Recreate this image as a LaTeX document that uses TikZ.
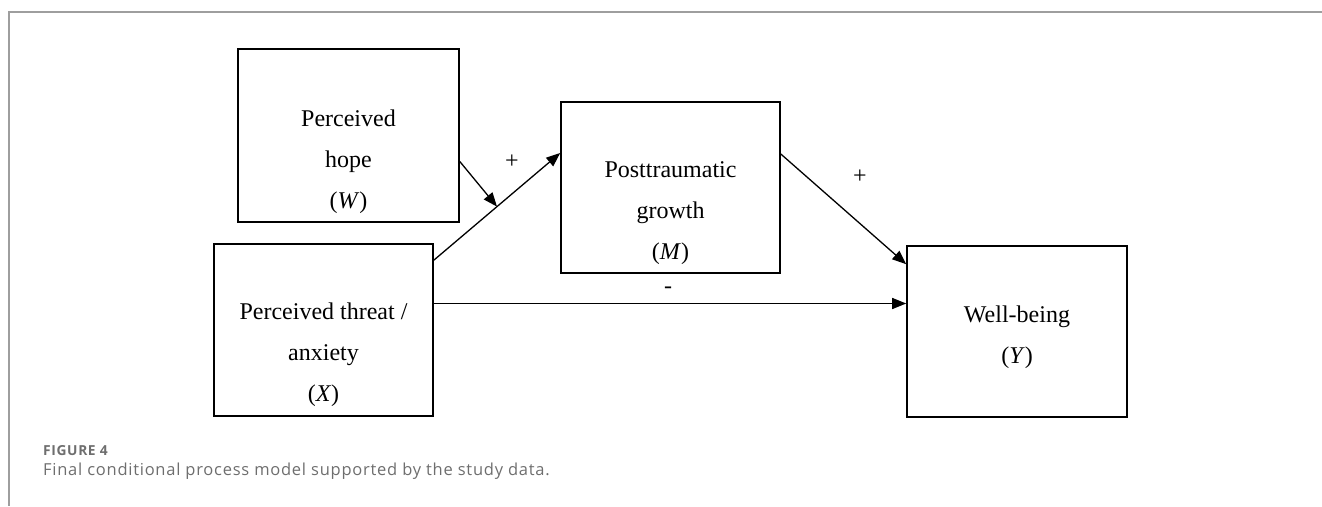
\documentclass[tikz,border=0pt]{standalone}
\usepackage{fontspec}
\setmainfont{Liberation Serif}
\newfontfamily\capfont[LetterSpace=4.5]{Open Sans}
\usetikzlibrary{arrows.meta}
\definecolor{framegray}{HTML}{9E9E9E}
\definecolor{capgray}{HTML}{6E6E6E}
\begin{document}
\begin{tikzpicture}[x=1pt,y=-1pt,
    box/.style={draw, line width=1.6pt, inner sep=0pt},
    boxtext/.style={align=center, font=\fontsize{24}{41}\selectfont},
    sign/.style={font=\fontsize{24}{28}\selectfont},
    arr/.style={-{Triangle[length=14pt,width=11pt]}, line width=1.3pt}]
    \useasboundingbox (0,0) rectangle (1322,506);
    % frame of the figure
    \draw[framegray, line width=1.5pt] (1322,12) -- (9,12) -- (9,506);

    % boxes
    \node[box, minimum width=221pt, minimum height=173pt] (hope) at (348.5,135.5) {};
    \node[box, minimum width=219pt, minimum height=172pt] (threat) at (323.5,330) {};
    \node[box, minimum width=219pt, minimum height=171pt] (growth) at (670.5,187.5) {};
    \node[box, minimum width=220pt, minimum height=171pt] (wellb) at (1017,331.5) {};

    \node[boxtext, yshift=-26.5pt] (hopetxt) at (hope) {Perceived\\hope\\(\textit{W})};
    \node[boxtext, yshift=-25pt] (threattxt) at (threat) {Perceived threat /\\anxiety\\(\textit{X})};
    \node[boxtext, yshift=-25.5pt] (growthtxt) at (growth) {Posttraumatic\\growth\\(\textit{M})};
    \node[boxtext, yshift=-5.5pt] (wellbtxt) at (wellb) {Well-being\\(\textit{Y})};

    % paths
    \draw[arr] ([yshift=-17pt]threat.north east) -- coordinate[pos=0.5] (joint) ([yshift=34.5pt]growth.west);
    \draw[arr] ([yshift=-26pt]hope.east) -- (joint);
    \draw[arr] ([yshift=33.5pt]growth.east) -- ([yshift=-19pt]wellb.north west);
    \coordinate (direct) at ([yshift=26.5pt]threat.east);
    \draw[arr] (direct) -- (direct -| wellb.west);

    \node[sign] (plusa) at (512,162) {+};
    \node[sign] (plusb) at (860,177) {+};
    \node[sign] (minus) at (668,290) {-};

    % caption
    \node[anchor=base west, inner sep=0pt, text=capgray,
          font=\capfont\bfseries\fontsize{13.8}{16}\selectfont] (fighead) at (43,455) {FIGURE 4};
    \node[anchor=base west, inner sep=0pt, text=capgray,
          font=\capfont\fontsize{16.5}{19}\selectfont] (figcap) at (43,475) {Final conditional process model supported by the study data.};
\end{tikzpicture}
\end{document}
